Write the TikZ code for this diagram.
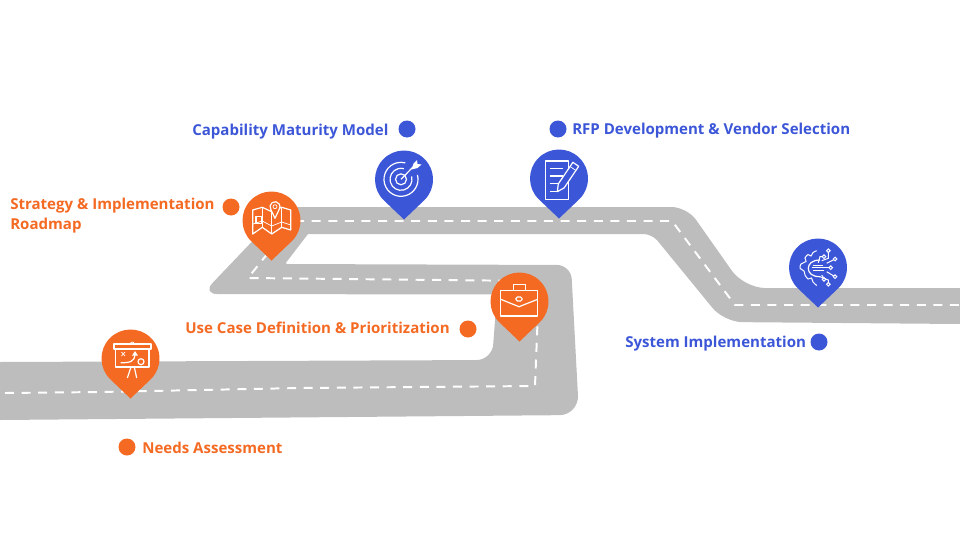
\documentclass[tikz,border=0pt]{standalone}
\usepackage{fontspec}
\setmainfont{Open Sans}
\usetikzlibrary{calc}
\definecolor{roadgray}{HTML}{BDBDBD}
\definecolor{pinorange}{HTML}{F46A23}
\definecolor{pinblue}{HTML}{3C56D8}
\tikzset{
    dot/.style={circle,fill=#1,inner sep=0pt,minimum size=17*0.711pt},
    stoplabel/.style={text=#1,font=\bfseries\fontsize{10.7}{14.2}\selectfont,align=left,inner sep=0pt},
    icon/.style={draw=white,line width=0.85pt,line join=round},
    thinicon/.style={draw=white,line width=0.5pt},
    pinmark/.pic={\fill[#1] (0,40) -- (133.5:29) arc (133.5:406.5:29) -- cycle;}
}
\begin{document}
\begin{tikzpicture}[x=0.025cm,y=-0.025cm]
    \useasboundingbox (0,0) rectangle (960,540);
    % road
    \fill[roadgray] (0,362) [rounded corners=11pt] -- (492,360) [sharp corners] -- (497,294.5)
        [rounded corners=11pt] -- (202,294) [sharp corners] -- (285,207)
        [rounded corners=11pt] -- (687,207) [rounded corners=15pt] -- (744,288) [sharp corners] -- (960,288) -- (960,324)
        [rounded corners=13pt] -- (724,322) [rounded corners=6pt] -- (652,234) [sharp corners] -- (308,234)
        [rounded corners=1.5pt] -- (285,264) [rounded corners=10pt] -- (571,265) [rounded corners=14pt] -- (579,415) [sharp corners] -- (0,420) -- cycle;
    \draw[white,line width=1.4pt,dash pattern=on 6.4pt off 5.4pt] (5,393) -- (100,392) -- (200,390) -- (300,388)
        -- (535,386) -- (538,310) -- (536,281) -- (248,278) -- (272,248) -- (300,221) -- (672,221) -- (735,305) -- (960,305);

    % pins
    \foreach \px/\py/\pcol in {130.5/358.5/pinorange,519.5/301.5/pinorange,271.5/220.5/pinorange,404/179.5/pinblue,559/178.5/pinblue,818/267.5/pinblue}
        \pic at (\px,\py) {pinmark=\pcol};

    % board
    \begin{scope}[shift={(130.5,358)}]
        \draw[icon] (-16.5,-14) rectangle (20.5,-9);
        \draw[icon] (-14.8,-9) rectangle (18.5,9);
        \draw[icon] (0.5,9) -- (-3.2,20);
        \draw[icon] (3.8,9) -- (6.2,20);
        \draw[thinicon] (-0.2,-14) arc (180:360:2);
        \draw[thinicon] (-9,-6) -- (-5.4,-2);
        \draw[thinicon] (-5.4,-6) -- (-9,-2);
        \draw[icon] (-9.8,4.7) .. controls (0,5) and (4,3) .. (4.5,-3);
        \fill[white] (1.5,-2.5) -- (4.5,-7) -- (7.5,-2.5) -- cycle;
        \draw[icon] (10.5,3.7) circle (3);
    \end{scope}

    % briefcase
    \begin{scope}[shift={(519,301)}]
        \draw[icon] (-18.3,-10.3) rectangle (18.7,15);
        \draw[icon] (-5.7,-10.3) -- (-5.7,-16.7) -- (6.3,-16.7) -- (6.3,-10.3);
        \draw[icon] (-18.3,-1.7) -- (0,5.7) -- (18.7,-1.7);
        \draw[icon,rounded corners=1pt] (-3,-4) rectangle (3,0);
    \end{scope}

    % map
    \begin{scope}[shift={(271,220)}]
        \draw[icon] (-18.3,-10) -- (-8.7,-12.7) -- (0.7,-8.3) -- (10.7,-12.7) -- (19.7,-10) -- (19.7,10)
            -- (10.7,7.3) -- (0.7,14) -- (-8.7,7.3) -- (-18.3,14) -- cycle;
        \draw[thinicon] (-8.7,-12.7) -- (-8.7,7.3);
        \draw[thinicon] (0.7,-8.3) -- (0.7,14);
        \draw[thinicon] (10.7,-12.7) -- (10.7,7.3);
        \draw[icon] (-15,-3.3) rectangle (-9.5,3.3);
        \draw[thinicon] (-18,4) -- (-8.7,1) -- (0.7,6) -- (10.7,2) -- (19.7,5);
        \draw[icon,fill=pinorange] (4,-1.7) -- (-0.15,-10.5) arc (146:394:5) -- cycle;
        \draw[thinicon] (4,-13.3) circle (2);
    \end{scope}

    % target
    \begin{scope}[shift={(404,179)}]
        \draw[icon] ($(-3,0.3)+(-15:17)$) arc (-15:285:17);
        \draw[icon] ($(-3,0.3)+(-15:11)$) arc (-15:285:11);
        \draw[icon] (-3,0.3) circle (5.5);
        \draw[icon] (-3,0.3) -- (9,-12);
        \fill[white] (7.5,-9.5) -- (9.5,-15.5) -- (13,-19) -- (13.5,-15) -- (17.5,-14.5) -- (13.5,-11) -- cycle;
    \end{scope}

    % document
    \begin{scope}[shift={(559,178)}]
        \draw[icon] (-13.7,-17) rectangle (9.7,21.3);
        \foreach \ly/\lx in {-9.7/4.3,-2/4.3,5.3/4.3,13.7/-2}
            \draw[icon] (-9,\ly) -- (\lx,\ly);
        \draw[icon,fill=pinblue] (-1.7,13.7) -- (-0.7,5.9) -- (13.9,-15.7) -- (19.7,-11.7) -- (5.1,9.9) -- cycle;
        \draw[thinicon] (11.1,-11.5) -- (16.9,-7.5);
    \end{scope}

    % gear
    \begin{scope}[shift={(818,267)},thinicon/.append style={line width=0.7pt}]
        \draw[thinicon] plot[smooth] coordinates {(-1.3,-16.3) (-5,-14.5) (-7,-11) (-10,-12.5) (-13,-9) (-12,-5.5)
            (-17,-3) (-18,1.3) (-14,4) (-13,8) (-10,12) (-6.5,11) (-5,15) (-1.3,18.5)};
        \draw[icon] (2,-7) .. controls (-6,-7) and (-9.7,-3) .. (-9.7,1.3) .. controls (-9.7,6) and (-6,9.7) .. (2,9.7);
        \draw[thinicon] (-5,-2) -- (5,-2);
        \draw[thinicon] (-5,3.5) -- (6,3.5);
        \foreach \ax/\ay/\bx/\by/\ex/\ey in {0.3/-4.3/2/-10.3/6/-10.3, 3.7/-6.3/10.3/-8.7/10.3/-16.3, 8.7/-3.7/15.3/-7/17/-8,
            -6.3/0.7/8/0.7/12.7/0.7, 8.7/4.7/15.3/8.7/17/9.7, 3.7/8/5/10/6/12.3, 2/9.7/10.3/13/10.3/17.3}{
            \draw[thinicon] (\ax,\ay) -- (\bx,\by) -- (\ex,\ey);
            \draw[thinicon,fill=pinblue] (\ex,\ey) circle (1.8);
        }
    \end{scope}

    % stops
    \node[dot=pinorange] (needsdot) at (127,447) {};
    \node[stoplabel=pinorange,anchor=base west] (needs) at (142,453) {Needs Assessment};
    \node[dot=pinorange] (usecasedot) at (468,329) {};
    \node[stoplabel=pinorange,anchor=base west] (usecase) at (185,333) {Use Case Definition \& Prioritization};
    \node[dot=pinorange] (strategydot) at (231,207) {};
    \node[stoplabel=pinorange,anchor=west] (strategy) at (10,216) {Strategy \& Implementation\\Roadmap};
    \node[dot=pinblue] (maturitydot) at (407,129) {};
    \node[stoplabel=pinblue,anchor=base west] (maturity) at (192,135) {Capability Maturity Model};
    \node[dot=pinblue] (rfpdot) at (558,129) {};
    \node[stoplabel=pinblue,anchor=base west] (rfp) at (572,134) {RFP Development \& Vendor Selection};
    \node[dot=pinblue] (systemdot) at (819,342) {};
    \node[stoplabel=pinblue,anchor=base west] (system) at (625,347) {System Implementation};
\end{tikzpicture}
\end{document}
